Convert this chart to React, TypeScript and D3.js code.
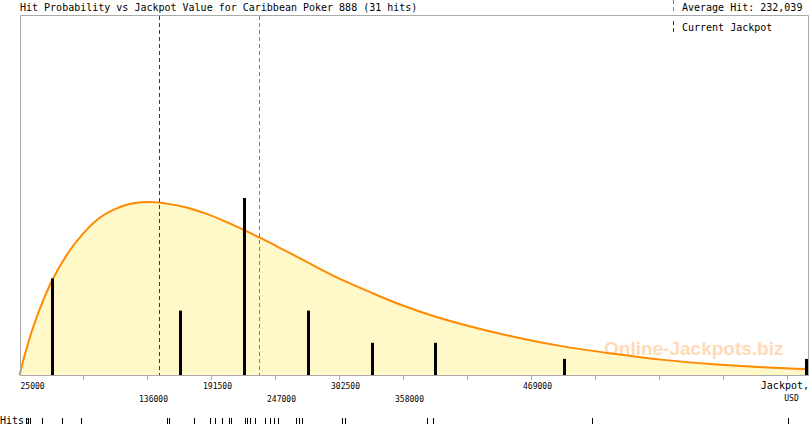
import React from "react";
import * as d3 from "d3";

const TITLE = "Hit Probability vs Jackpot Value for Caribbean Poker 888 (31 hits)";
const AVERAGE_LABEL = "Average Hit: 232,039";
const CURRENT_LABEL = "Current Jackpot";
const AVERAGE_HIT = 232039;
const CURRENT_JACKPOT = 146400;

// individual hit amounts (USD)
const hitValues = [
  31070, 32805, 34539, 44945, 62289, 78766, 153344, 155078, 176758, 190900,
  194969, 201039, 207109, 208844, 220984, 222719, 225320, 229656, 238328, 242664,
  246500, 249602, 265211, 267813, 270414, 305102, 307703, 378813, 384016, 521898,
  691869,
];

// histogram bin edges / axis ticks (USD)
const binEdges = [
  25000, 80500, 136000, 191500, 247000, 302500, 358000, 413500, 469000, 524500,
  580000, 635500, 691000, 746500,
];
const tickValues = [
  25000, 80500, 136000, 191500, 247000, 302500, 358000, 413500, 469000, 524500,
  580000, 635500, 691000,
];
const tickLabels = ["25000", "136000", "191500", "247000", "302500", "358000", "469000"];
const tickLabelValues = [25000, 136000, 191500, 247000, 302500, 358000, 469000];

// fitted probability curve (USD, expected hits per bin)
const curveJackpot = [
  25000, 31240, 36970, 45640, 53440, 65930, 80330, 94810, 109290, 123690, 138170,
  152650, 169990, 187340, 204680, 219940, 232950, 248040, 268250, 302940, 328950,
  352100, 383840, 412800, 453220, 493700, 539930, 583290, 626650, 670010, 698970,
  708000,
];
const curveDensity = [
  0, 1.68, 3.0, 4.66, 5.9, 7.46, 8.8, 9.79, 10.36, 10.68, 10.75, 10.65, 10.41,
  10.01, 9.5, 9.0, 8.55, 8.0, 7.25, 5.97, 5.15, 4.46, 3.67, 3.08, 2.38, 1.81,
  1.32, 0.94, 0.67, 0.48, 0.39, 0.37,
];

const W = 810;
const H = 425;
const LEFT = 20;
const RIGHT = 808;
const TOP = 15;
const BOTTOM = 375;
const MONO = "'DejaVu Sans Mono', monospace";

export default function App() {
  const x = d3.scaleLinear().domain([25000, 691000]).range([19.5, 787.5]);
  const y = d3.scaleLinear().domain([0, 11]).range([BOTTOM, 198]);

  const pts: [number, number][] = curveJackpot.map((v, i) => [v, curveDensity[i]]);
  const area = d3
    .area<[number, number]>()
    .x((d) => x(d[0]))
    .y0(BOTTOM)
    .y1((d) => y(d[1]))
    .curve(d3.curveMonotoneX);
  const line = d3
    .line<[number, number]>()
    .x((d) => x(d[0]))
    .y((d) => y(d[1]))
    .curve(d3.curveMonotoneX);

  const bins = d3
    .bin()
    .domain([binEdges[0], binEdges[binEdges.length - 1]])
    .thresholds(binEdges.slice(1, -1))(hitValues);

  const crisp = (v: number) => Math.floor(v) + 0.5;

  return (
    <svg
      width={W}
      height={H}
      style={{ position: "absolute", left: 0, top: 0, background: "#fff" }}
    >
      <rect x={0} y={0} width={W} height={H} fill="#fff" />
      {/* area */}
      <path d={area(pts) || ""} fill="#FFF8C8" stroke="none" />
      {/* watermark */}
      <text
        x={604}
        y={355}
        fontFamily="'Liberation Sans', Arial, sans-serif"
        fontWeight="bold"
        fontSize={19}
        fill="#FFDAB6"
      >
        Online-Jackpots.biz
      </text>
      {/* curve */}
      <path d={line(pts) || ""} fill="none" stroke="#FF8A00" strokeWidth={2} />
      {/* bars */}
      {bins
        .filter((b) => b.length > 0)
        .map((b, i) => {
          const cx = x(((b.x0 as number) + (b.x1 as number)) / 2);
          let xl = Math.round(cx - 1);
          if (xl + 3 > RIGHT) xl = RIGHT - 3;
          return (
            <rect
              key={i}
              x={xl}
              y={y(b.length)}
              width={3}
              height={BOTTOM - y(b.length)}
              fill="#000"
            />
          );
        })}
      {/* current jackpot & average lines */}
      <line
        x1={crisp(x(CURRENT_JACKPOT))}
        x2={crisp(x(CURRENT_JACKPOT))}
        y1={TOP + 1}
        y2={BOTTOM}
        stroke="#C00000"
        strokeDasharray="4,3"
      />
      <line
        x1={crisp(x(AVERAGE_HIT)) + 1}
        x2={crisp(x(AVERAGE_HIT)) + 1}
        y1={TOP + 1}
        y2={BOTTOM}
        stroke="#3A95C8"
        strokeDasharray="4,3"
      />
      {/* frame */}
      <path
        d={`M${LEFT + 0.5},${BOTTOM} V${TOP + 0.5} H${RIGHT + 0.5} V${BOTTOM}`}
        fill="none"
        stroke="#AAAAAA"
      />
      <line x1={LEFT} x2={RIGHT + 1} y1={BOTTOM + 0.5} y2={BOTTOM + 0.5} stroke="#AAAAAA" />
      {tickValues.slice(1).map((v, i) => (
        <line
          key={i}
          x1={crisp(x(v))}
          x2={crisp(x(v))}
          y1={BOTTOM}
          y2={BOTTOM + 5}
          stroke="#AAAAAA"
        />
      ))}
      {/* tick labels */}
      {tickLabelValues.map((v, i) => (
        <text
          key={i}
          x={i === 0 ? LEFT + 0.5 : x(v) + 6}
          y={i % 2 === 0 ? 389 : 402}
          textAnchor={i === 0 ? "start" : "middle"}
          fontFamily={MONO}
          fontSize={8}
          fill="#000"
        >
          {tickLabels[i]}
        </text>
      ))}
      <text x={809} y={389} textAnchor="end" fontFamily={MONO} fontSize={10} fill="#000">
        Jackpot,
      </text>
      <text
        x={x(691000) + 4}
        y={401}
        textAnchor="middle"
        fontFamily={MONO}
        fontSize={8}
        fill="#000"
      >
        USD
      </text>
      {/* title & legend */}
      <text x={20} y={11} fontFamily={MONO} fontSize={10} fill="#000">
        {TITLE}
      </text>
      <line x1={673.5} x2={673.5} y1={0} y2={12} stroke="#3A95C8" strokeDasharray="4,3" />
      <text x={682} y={11} fontFamily={MONO} fontSize={10} fill="#000">
        {AVERAGE_LABEL}
      </text>
      <line x1={673.5} x2={673.5} y1={21} y2={33} stroke="#C00000" strokeDasharray="4,3" />
      <text x={682} y={31} fontFamily={MONO} fontSize={10} fill="#000">
        {CURRENT_LABEL}
      </text>
      {/* hits strip */}
      <text x={0} y={424} fontFamily={MONO} fontSize={10} fill="#000">
        Hits:
      </text>
      {hitValues.map((v, i) => (
        <line
          key={i}
          x1={crisp(x(v))}
          x2={crisp(x(v))}
          y1={418}
          y2={424}
          stroke="#000"
        />
      ))}
    </svg>
  );
}
